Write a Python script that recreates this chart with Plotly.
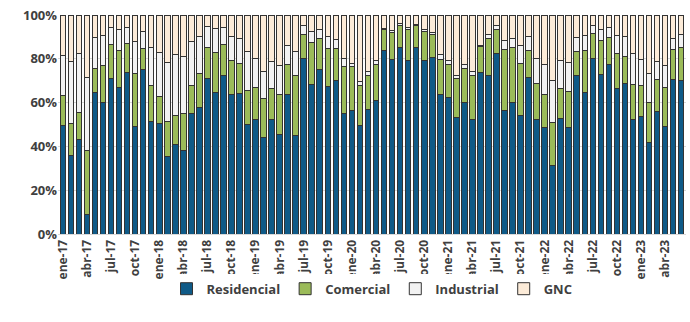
import plotly.graph_objects as go

months = [
    "ene-17","feb-17","mar-17","abr-17","may-17","jun-17","jul-17","ago-17","sep-17","oct-17","nov-17","dic-17",
    "ene-18","feb-18","mar-18","abr-18","may-18","jun-18","jul-18","ago-18","sep-18","oct-18","nov-18","dic-18",
    "ene-19","feb-19","mar-19","abr-19","may-19","jun-19","jul-19","ago-19","sep-19","oct-19","nov-19","dic-19",
    "ene-20","feb-20","mar-20","abr-20","may-20","jun-20","jul-20","ago-20","sep-20","oct-20","nov-20","dic-20",
    "ene-21","feb-21","mar-21","abr-21","may-21","jun-21","jul-21","ago-21","sep-21","oct-21","nov-21","dic-21",
    "ene-22","feb-22","mar-22","abr-22","may-22","jun-22","jul-22","ago-22","sep-22","oct-22","nov-22","dic-22",
    "ene-23","feb-23","mar-23","abr-23","may-23","jun-23",
]

residencial = [
    49.5, 35.9, 43.0, 9.0, 64.4, 60.2, 71.0, 66.8, 73.7, 49.1, 74.9, 51.6,
    50.5, 35.3, 40.7, 38.0, 54.9, 57.6, 71.0, 64.5, 72.5, 63.9, 64.3, 49.9,
    52.5, 43.9, 52.1, 45.5, 63.8, 45.2, 80.2, 68.3, 74.9, 67.3, 70.0, 54.8,
    56.6, 49.5, 57.0, 60.9, 84.0, 79.8, 85.1, 79.1, 85.1, 79.1, 80.6, 63.9,
    62.4, 53.4, 60.1, 52.1, 73.8, 72.6, 82.5, 56.6, 60.1, 54.3, 71.5, 52.1,
    48.6, 31.1, 52.8, 48.6, 72.6, 64.5, 80.2, 72.7, 77.6, 66.3, 68.9, 52.2,
    53.8, 41.9, 56.0, 49.1, 70.7, 70.0,
]
comercial = [
    13.8, 14.5, 12.4, 29.0, 11.4, 16.7, 15.7, 16.8, 13.4, 24.0, 9.6, 16.2,
    12.5, 16.2, 13.6, 16.8, 12.9, 15.9, 14.0, 18.3, 14.0, 15.1, 13.7, 15.5,
    14.6, 18.0, 14.4, 18.3, 13.4, 27.4, 10.7, 19.1, 14.4, 17.2, 14.5, 21.6,
    19.8, 18.2, 15.6, 16.6, 9.5, 12.3, 10.3, 14.1, 10.3, 13.3, 10.3, 15.9,
    15.1, 17.4, 15.5, 20.2, 12.0, 16.7, 11.0, 27.7, 25.0, 23.6, 12.2, 16.7,
    15.2, 19.9, 13.7, 16.4, 10.7, 19.5, 11.4, 15.6, 12.2, 16.3, 12.2, 16.2,
    13.9, 18.2, 14.4, 17.6, 13.7, 15.3,
]
industrial = [
    18.2, 28.5, 27.1, 33.5, 14.0, 13.7, 7.7, 9.6, 7.0, 14.8, 8.1, 17.4,
    19.9, 26.7, 27.7, 26.2, 20.0, 16.6, 9.6, 10.9, 7.9, 11.3, 11.2, 18.0,
    13.1, 12.2, 12.2, 13.0, 8.7, 10.7, 4.1, 5.0, 3.9, 5.6, 4.4, 3.8,
    1.5, 1.9, 1.8, 1.6, 0.4, 0.6, 0.8, 1.0, 0.3, 0.8, 1.2, 2.2,
    1.5, 1.8, 1.6, 2.1, 0.5, 1.9, 1.9, 4.0, 4.2, 8.4, 6.4, 11.4,
    13.4, 19.0, 12.6, 13.2, 6.5, 6.6, 3.8, 5.2, 4.6, 8.0, 8.9, 14.1,
    12.0, 13.2, 8.4, 10.3, 4.8, 5.9,
]
gnc = [
    18.5, 21.1, 17.5, 28.5, 10.2, 9.4, 5.6, 6.8, 5.9, 12.1, 7.4, 14.8,
    17.1, 21.8, 18.0, 19.0, 12.2, 9.9, 5.4, 6.3, 5.6, 9.7, 10.8, 16.6,
    19.8, 25.9, 21.3, 23.2, 14.1, 16.7, 5.0, 7.6, 6.8, 9.9, 11.1, 19.8,
    22.1, 30.4, 25.6, 20.9, 6.1, 7.3, 3.8, 5.8, 4.3, 6.8, 7.9, 18.0,
    21.0, 27.4, 22.8, 25.6, 13.7, 8.8, 4.6, 11.7, 10.7, 13.7, 9.9, 19.8,
    22.8, 30.0, 20.9, 21.8, 10.2, 9.4, 4.6, 6.5, 5.6, 9.4, 10.0, 17.5,
    20.3, 26.7, 21.2, 23.0, 10.8, 8.8,
]

tick_labels = months[::3]

series = [
    ("Residencial", residencial, "#0F5A87"),
    ("Comercial", comercial, "#9BBB59"),
    ("Industrial", industrial, "#F2F2F2"),
    ("GNC", gnc, "#FCEBD8"),
]

fig = go.Figure()
for name, vals, col in series:
    fig.add_trace(go.Bar(
        x=months, y=vals, name=name,
        marker=dict(color=col, line=dict(color="#333333", width=1)),
    ))

fig.update_layout(
    width=690, height=322,
    barmode="stack", bargap=0.3,
    plot_bgcolor="white", paper_bgcolor="white",
    margin=dict(l=58, r=4, t=15, b=88, autoexpand=False),
    font=dict(family="Open Sans", size=12, color="#404040"),
    legend=dict(
        orientation="h", x=0.5, xanchor="center", y=-0.25, yanchor="middle",
        traceorder="normal",
        font=dict(family="Open Sans", size=13, color="#404040", weight="bold"),
    ),
    showlegend=True,
)
fig.update_xaxes(
    type="category", tickmode="array", tickvals=tick_labels, ticktext=tick_labels,
    tickangle=-90, automargin=False,
    tickfont=dict(family="Open Sans", size=12, color="#404040", weight="bold"),
    showgrid=False, showline=True, linecolor="#D9D9D9",
    ticks="", range=[-0.6, len(months) - 0.4],
)
fig.update_yaxes(
    range=[0, 100], dtick=20, ticksuffix="%", showgrid=True, gridcolor="#D9D9D9",
    automargin=False,
    tickfont=dict(family="Open Sans", size=13, color="#404040", weight="bold"),
    zeroline=False, ticks="",
)

fig.write_html(
    "out.html",
    config={"displayModeBar": False, "staticPlot": True},
    post_script="document.body.style.margin='0';document.body.style.overflow='hidden';",
)
